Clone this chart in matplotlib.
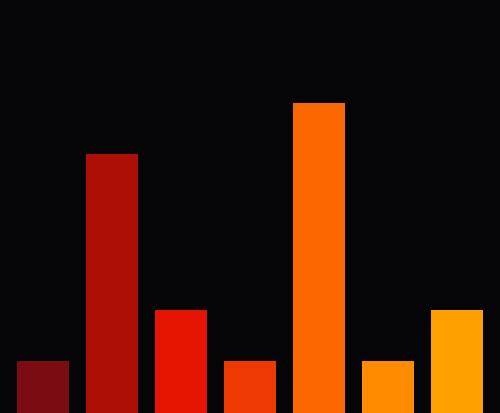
import matplotlib
matplotlib.use("Agg")
import matplotlib.pyplot as plt

categories = ["A", "B", "C", "D", "E", "F", "G"]
values = [1, 5, 2, 1, 6, 1, 2]
colors = ["#7b0d12", "#ad0f07", "#e51400", "#ee3a00", "#fb6700", "#ff8c00", "#ffa000"]

fig = plt.figure(figsize=(5, 4.14), dpi=100, facecolor="#050507")
ax = fig.add_axes([0, 0, 1, 1])
ax.set_facecolor("#050507")
x = list(range(len(categories)))
ax.bar(x, values, width=0.754, color=colors, linewidth=0)
ax.set_xlim(-0.623, len(categories) - 1 + 0.623)
ax.set_ylim(0, 8)
ax.axis("off")
fig.savefig("out.png", dpi=100, facecolor=fig.get_facecolor())
